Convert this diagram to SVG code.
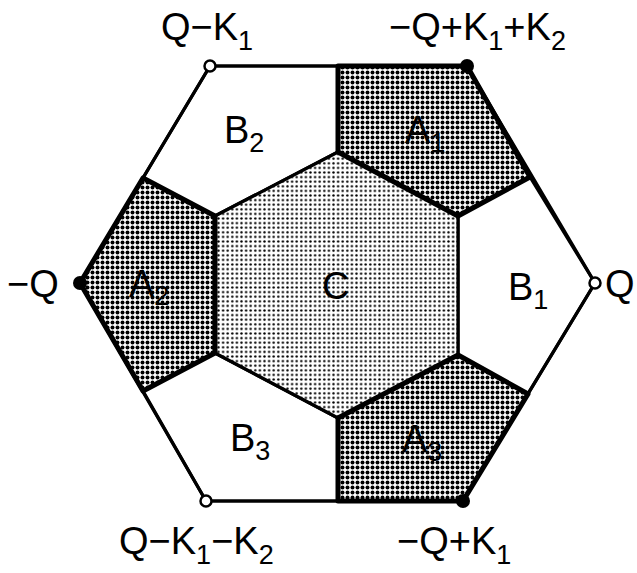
<svg xmlns="http://www.w3.org/2000/svg" width="637" height="573" viewBox="0 0 637 573">
<style>
.t{font-family:"Liberation Sans",Arial,Helvetica,sans-serif;font-size:38px;fill:#000}
.s{font-size:27px}
.thin{fill:none;stroke:#000;stroke-width:3.2;stroke-linejoin:round;stroke-linecap:round}
.reg{stroke:#000;stroke-width:3.2;stroke-linejoin:round}
.ra{fill:url(#pa);stroke:#000;stroke-width:5;stroke-linejoin:round}
.rc{fill:url(#pc)}
.rb{fill:#fff}
.dot{fill:#000}
.open{fill:#fff;stroke:#000;stroke-width:2.5}
</style>
<defs>
<pattern id="pa" width="5" height="5" patternUnits="userSpaceOnUse"><rect width="5" height="5" fill="#fff"/><circle cx="2.5" cy="2.5" r="2" fill="#000"/></pattern>
<pattern id="pc" width="4.6" height="4.6" patternUnits="userSpaceOnUse"><rect width="4.6" height="4.6" fill="#fff"/><circle cx="2.3" cy="2.3" r="1.2" fill="#000"/></pattern>
</defs>
<rect width="637" height="573" fill="#fff"/>
<g id="B2"><polygon class="reg rb" points="210,66 338,66 338,152 215,216 143,178"/></g>
<g id="B1"><polygon class="reg rb" points="530,177 595,283 528,394 458,355 458,216"/></g>
<g id="B3"><polygon class="reg rb" points="338,418 338,501 206,501 143,391 215,353"/></g>
<g id="C"><polygon class="reg rc" points="338,152 458,216 458,355 338,418 215,353 215,216"/></g>
<g id="A1"><polygon class="ra" points="338,66 467,66 530,177 458,216 338,152"/></g>
<g id="A2"><polygon class="ra" points="215,216 215,353 143,391 80,283 143,178"/></g>
<g id="A3"><polygon class="ra" points="458,355 528,394 463,501 338,501 338,418"/></g>
<g id="connectors"><polygon class="thin" points="210,66 467,66 595,283 463,501 206,501 80,283"/></g>
<g id="vertices">
<circle class="dot" cx="467" cy="66" r="7"/>
<circle class="dot" cx="80" cy="283" r="7"/>
<circle class="dot" cx="463" cy="501" r="7"/>
<circle class="open" cx="210" cy="66" r="5.5"/>
<circle class="open" cx="595" cy="283" r="5.5"/>
<circle class="open" cx="206" cy="501" r="5.5"/>
</g>
<g id="labels" class="t">
<text x="161" y="40">Q−K<tspan class="s" dy="10">1</tspan></text>
<text x="389" y="40">−Q+K<tspan class="s" dy="10">1</tspan><tspan dy="-10">+K</tspan><tspan class="s" dy="10">2</tspan></text>
<text x="7" y="297">−Q</text>
<text x="605" y="297">Q</text>
<text x="119" y="554">Q−K<tspan class="s" dy="10">1</tspan><tspan dy="-10">−K</tspan><tspan class="s" dy="10">2</tspan></text>
<text x="397" y="554">−Q+K<tspan class="s" dy="10">1</tspan></text>
<text x="224" y="143">B<tspan class="s" dy="9">2</tspan></text>
<text x="405" y="143">A<tspan class="s" dy="9">1</tspan></text>
<text x="508" y="300">B<tspan class="s" dy="9">1</tspan></text>
<text x="129" y="297">A<tspan class="s" dy="8">2</tspan></text>
<text x="322" y="299">C</text>
<text x="230" y="451">B<tspan class="s" dy="9">3</tspan></text>
<text x="402" y="452">A<tspan class="s" dy="9">3</tspan></text>
</g>
</svg>
